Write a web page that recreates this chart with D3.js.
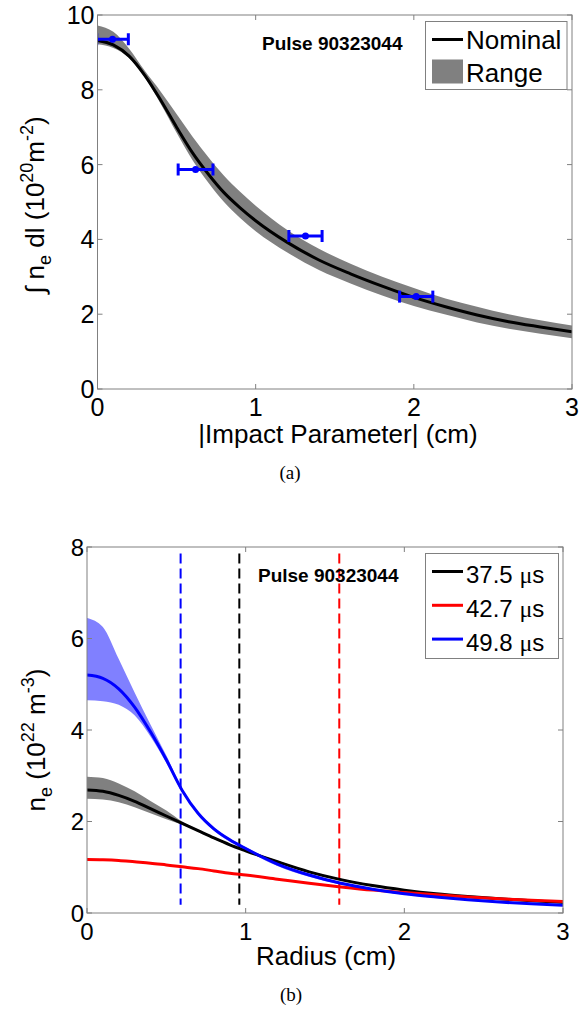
<!DOCTYPE html>
<html>
<head>
<meta charset="utf-8">
<script src="https://cdn.jsdelivr.net/npm/d3@7"></script>
<style>
  body { margin: 0; background: #fff; }
  svg { display: block; font-family: Arial, "Liberation Sans", sans-serif; }
</style>
</head>
<body>
<svg id="fig" width="581" height="1015"></svg>
<script>
// panel (a): line integrated density vs impact parameter
var impactX = [0, 0.1, 0.2, 0.3, 0.4, 0.5, 0.6, 0.7, 0.8, 0.9, 1.0, 1.2, 1.4, 1.6, 1.8, 2.0, 2.2, 2.4, 2.6, 2.8, 3.0];
var nominal = [9.32, 9.2, 8.9, 8.38, 7.72, 7.0, 6.32, 5.75, 5.25, 4.85, 4.5, 3.92, 3.45, 3.08, 2.75, 2.45, 2.2, 1.98, 1.8, 1.66, 1.53];
var rangeHi = [9.72, 9.55, 9.1, 8.5, 7.95, 7.35, 6.75, 6.2, 5.7, 5.28, 4.9, 4.25, 3.75, 3.35, 3.0, 2.7, 2.42, 2.2, 2.0, 1.84, 1.7];
var rangeLo = [9.22, 9.12, 8.85, 8.33, 7.62, 6.85, 6.12, 5.52, 5.0, 4.58, 4.22, 3.65, 3.18, 2.82, 2.5, 2.22, 1.99, 1.78, 1.61, 1.48, 1.36];
var measX = [0.095, 0.62, 1.315, 2.015];
var measXerr = [0.1, 0.11, 0.105, 0.105];
var measY = [9.35, 5.87, 4.09, 2.47];

// panel (b): inverted density profiles
var radius = [0, 0.1, 0.2, 0.3, 0.4, 0.5, 0.6, 0.7, 0.8, 0.9, 1.0, 1.2, 1.4, 1.6, 1.8, 2.0, 2.2, 2.4, 2.6, 2.8, 3.0];
var times = ["37.5", "42.7", "49.8"];
var ne375 = [2.69, 2.66, 2.57, 2.44, 2.28, 2.12, 1.96, 1.8, 1.64, 1.49, 1.36, 1.12, 0.9, 0.73, 0.6, 0.5, 0.42, 0.36, 0.31, 0.27, 0.23];
var ne375Hi = [2.98, 2.95, 2.83, 2.66, 2.45, 2.24, 2.0, 1.82, 1.66, 1.51, 1.38, 1.14, 0.92, 0.75, 0.62, 0.51, 0.43, 0.37, 0.32, 0.28, 0.24];
var ne375Lo = [2.5, 2.48, 2.42, 2.31, 2.18, 2.05, 1.93, 1.78, 1.62, 1.47, 1.34, 1.1, 0.88, 0.71, 0.58, 0.49, 0.41, 0.35, 0.3, 0.26, 0.22];
var ne427 = [1.17, 1.165, 1.15, 1.12, 1.09, 1.05, 1.01, 0.97, 0.92, 0.87, 0.83, 0.74, 0.65, 0.57, 0.5, 0.45, 0.4, 0.35, 0.31, 0.28, 0.25];
var ne498 = [5.2, 5.13, 4.9, 4.5, 3.96, 3.35, 2.68, 2.18, 1.84, 1.6, 1.41, 1.07, 0.83, 0.65, 0.52, 0.42, 0.35, 0.29, 0.24, 0.2, 0.17];
var ne498Hi = [6.45, 6.25, 5.55, 4.82, 4.12, 3.44, 2.72, 2.21, 1.87, 1.63, 1.44, 1.09, 0.85, 0.67, 0.53, 0.43, 0.36, 0.3, 0.25, 0.21, 0.18];
var ne498Lo = [4.65, 4.63, 4.55, 4.32, 3.86, 3.28, 2.64, 2.15, 1.8, 1.56, 1.37, 1.03, 0.79, 0.62, 0.5, 0.4, 0.33, 0.28, 0.23, 0.19, 0.16];
var markerR = [0.96, 1.59, 0.59];

var svg = d3.select("#fig");
var frameColor = "#808080";

function frame(g, x, y, w, h, xt, yt, fs) {
  // box + inward ticks on all four sides
  g.append("rect").attr("x", 0).attr("y", 0).attr("width", w).attr("height", h)
    .attr("fill", "none").attr("stroke", frameColor).attr("stroke-width", 1);
  xt.forEach(function (t) {
    g.append("line").attr("x1", x(t)).attr("x2", x(t)).attr("y1", h).attr("y2", h - 5).attr("stroke", frameColor);
    g.append("line").attr("x1", x(t)).attr("x2", x(t)).attr("y1", 0).attr("y2", 5).attr("stroke", frameColor);
    g.append("text").attr("x", x(t)).attr("y", h + 27).attr("text-anchor", "middle")
      .style("font-size", fs + "px").text(t);
  });
  yt.forEach(function (t) {
    g.append("line").attr("x1", 0).attr("x2", 5).attr("y1", y(t)).attr("y2", y(t)).attr("stroke", frameColor);
    g.append("line").attr("x1", w).attr("x2", w - 5).attr("y1", y(t)).attr("y2", y(t)).attr("stroke", frameColor);
    g.append("text").attr("x", -3).attr("y", y(t)).attr("dy", "0.36em").attr("text-anchor", "end")
      .style("font-size", fs + "px").text(t);
  });
}

// ---------- panel (a) ----------
var mA = { left: 97.5, top: 15 };
var wA = 474.5, hA = 374;
var gA = svg.append("g").attr("transform", "translate(" + mA.left + "," + mA.top + ")");
var xA = d3.scaleLinear().domain([0, 3]).range([0, wA]);
var yA = d3.scaleLinear().domain([0, 10]).range([hA, 0]);

gA.append("clipPath").attr("id", "clipA").append("rect").attr("width", wA).attr("height", hA);
var plotA = gA.append("g").attr("clip-path", "url(#clipA)");

plotA.append("path")
  .attr("fill", "#808080")
  .attr("d", d3.area()
    .x(function (d, i) { return xA(impactX[i]); })
    .y0(function (d, i) { return yA(rangeLo[i]); })
    .y1(function (d, i) { return yA(rangeHi[i]); })
    .curve(d3.curveMonotoneX)(impactX));

plotA.append("path")
  .attr("fill", "none").attr("stroke", "black").attr("stroke-width", 3)
  .attr("d", d3.line()
    .x(function (d, i) { return xA(impactX[i]); })
    .y(function (d, i) { return yA(nominal[i]); })
    .curve(d3.curveMonotoneX)(impactX));

measX.forEach(function (mx, i) {
  var x0 = xA(mx - measXerr[i]), x1 = xA(mx + measXerr[i]), yy = yA(measY[i]);
  plotA.append("line").attr("x1", x0).attr("x2", x1).attr("y1", yy).attr("y2", yy)
    .attr("stroke", "blue").attr("stroke-width", 3);
  [x0, x1].forEach(function (xc) {
    plotA.append("line").attr("x1", xc).attr("x2", xc).attr("y1", yy - 6).attr("y2", yy + 6)
      .attr("stroke", "blue").attr("stroke-width", 3);
  });
  plotA.append("circle").attr("cx", xA(mx)).attr("cy", yy).attr("r", 3.5).attr("fill", "blue");
});

frame(gA, xA, yA, wA, hA, [0, 1, 2, 3], [0, 2, 4, 6, 8, 10], 25);

gA.append("text").attr("x", 262 - mA.left).attr("y", 50 - mA.top)
  .style("font-size", "19px").style("font-weight", "bold").text("Pulse 90323044");

// legend (a)
var lgA = svg.append("g");
lgA.append("rect").attr("x", 425.5).attr("y", 21.5).attr("width", 141.5).attr("height", 68)
  .attr("fill", "white").attr("stroke", frameColor);
lgA.append("line").attr("x1", 432).attr("x2", 463).attr("y1", 39.5).attr("y2", 39.5)
  .attr("stroke", "black").attr("stroke-width", 3);
lgA.append("text").attr("x", 466).attr("y", 49).style("font-size", "26px").text("Nominal");
lgA.append("rect").attr("x", 432).attr("y", 59.5).attr("width", 31).attr("height", 24).attr("fill", "#808080");
lgA.append("text").attr("x", 466).attr("y", 82).style("font-size", "26px").text("Range");

// axis labels (a)
svg.append("text").attr("x", 338).attr("y", 443).attr("text-anchor", "middle")
  .style("font-size", "26px").text("|Impact Parameter| (cm)");
var ylA = svg.append("text").attr("transform", "translate(44,205) rotate(-90)")
  .attr("text-anchor", "middle").style("font-size", "26px");
ylA.append("tspan").text("\u222B n");
ylA.append("tspan").attr("dy", 7).style("font-size", "18px").text("e");
ylA.append("tspan").attr("dy", -7).text(" dl (10");
ylA.append("tspan").attr("dy", -11).style("font-size", "18px").text("20");
ylA.append("tspan").attr("dy", 11).text("m");
ylA.append("tspan").attr("dy", -11).style("font-size", "18px").text("-2");
ylA.append("tspan").attr("dy", 11).text(")");

svg.append("text").attr("x", 290).attr("y", 479).attr("text-anchor", "middle")
  .style("font-family", "'Liberation Serif', 'Times New Roman', serif").style("font-size", "19px").text("(a)");

// ---------- panel (b) ----------
var mB = { left: 87, top: 547 };
var wB = 476, hB = 366;
var gB = svg.append("g").attr("transform", "translate(" + mB.left + "," + mB.top + ")");
var xB = d3.scaleLinear().domain([0, 3]).range([0, wB]);
var yB = d3.scaleLinear().domain([0, 8]).range([hB, 0]);

gB.append("clipPath").attr("id", "clipB").append("rect").attr("width", wB).attr("height", hB);
var plotB = gB.append("g").attr("clip-path", "url(#clipB)");

var series = [
  { t: times[0], v: ne375, hi: ne375Hi, lo: ne375Lo, color: "black", band: "#808080" },
  { t: times[1], v: ne427, hi: null, lo: null, color: "red", band: null },
  { t: times[2], v: ne498, hi: ne498Hi, lo: ne498Lo, color: "blue", band: "#8080ff" }
];

series.forEach(function (s) {
  if (!s.band) return;
  plotB.append("path").attr("fill", s.band)
    .attr("d", d3.area()
      .x(function (d, i) { return xB(radius[i]); })
      .y0(function (d, i) { return yB(s.lo[i]); })
      .y1(function (d, i) { return yB(s.hi[i]); })
      .curve(d3.curveMonotoneX)(radius));
});

// dashed markers
series.forEach(function (s, i) {
  plotB.append("line").attr("x1", xB(markerR[i])).attr("x2", xB(markerR[i]))
    .attr("y1", yB(7.86)).attr("y2", yB(0.18))
    .attr("stroke", s.color).attr("stroke-width", 2).attr("stroke-dasharray", "10,5");
});

series.forEach(function (s) {
  plotB.append("path").attr("fill", "none").attr("stroke", s.color).attr("stroke-width", 3)
    .attr("d", d3.line()
      .x(function (d, i) { return xB(radius[i]); })
      .y(function (d, i) { return yB(s.v[i]); })
      .curve(d3.curveMonotoneX)(radius));
});

frame(gB, xB, yB, wB, hB, [0, 1, 2, 3], [0, 2, 4, 6, 8], 24);

gB.append("text").attr("x", 258 - mB.left).attr("y", 582 - mB.top)
  .style("font-size", "19px").style("font-weight", "bold").text("Pulse 90323044");

// legend (b)
var lgB = svg.append("g");
lgB.append("rect").attr("x", 425.5).attr("y", 553.5).attr("width", 133).attr("height", 105)
  .attr("fill", "white").attr("stroke", frameColor);
series.forEach(function (s, i) {
  var yy = 571.5 + i * 33.8;
  lgB.append("line").attr("x1", 432).attr("x2", 463).attr("y1", yy).attr("y2", yy)
    .attr("stroke", s.color).attr("stroke-width", 3);
  var t = lgB.append("text").attr("x", 466).attr("y", yy + 11.5).style("font-size", "24px");
  t.append("tspan").text(s.t + " ");
  t.append("tspan").style("font-family", "'Liberation Serif', serif").text("\u03BC");
  t.append("tspan").text("s");
});

svg.append("text").attr("x", 326).attr("y", 965).attr("text-anchor", "middle")
  .style("font-size", "26px").text("Radius (cm)");
var ylB = svg.append("text").attr("transform", "translate(45,740) rotate(-90)")
  .attr("text-anchor", "middle").style("font-size", "26px");
ylB.append("tspan").text("n");
ylB.append("tspan").attr("dy", 7).style("font-size", "18px").text("e");
ylB.append("tspan").attr("dy", -7).text(" (10");
ylB.append("tspan").attr("dy", -11).style("font-size", "18px").text("22");
ylB.append("tspan").attr("dy", 11).text(" m");
ylB.append("tspan").attr("dy", -11).style("font-size", "18px").text("-3");
ylB.append("tspan").attr("dy", 11).text(")");

svg.append("text").attr("x", 291).attr("y", 1001).attr("text-anchor", "middle")
  .style("font-family", "'Liberation Serif', 'Times New Roman', serif").style("font-size", "19px").text("(b)");
</script>
</body>
</html>
